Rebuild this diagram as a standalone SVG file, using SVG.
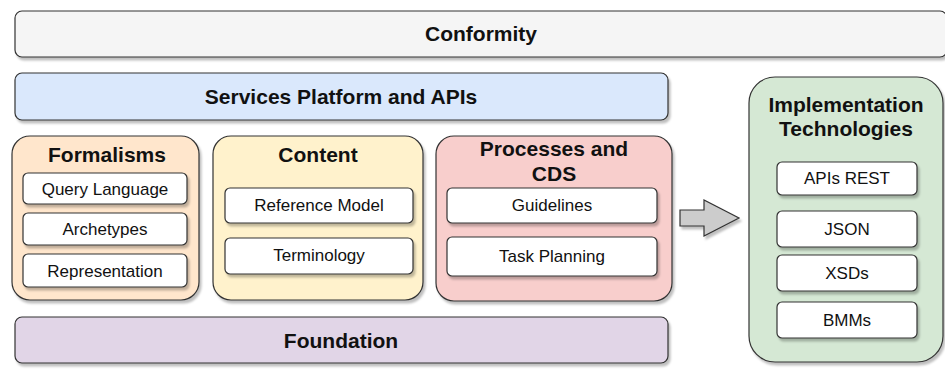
<svg xmlns="http://www.w3.org/2000/svg" width="945" height="369" viewBox="0 0 945 369">
<defs>
<filter id="sh" x="-10%" y="-10%" width="130%" height="130%">
<feDropShadow dx="2" dy="3" stdDeviation="0.8" flood-color="#000" flood-opacity="0.25"/>
</filter>
</defs>
<style>
rect, path { stroke: #333; stroke-width: 1.2; filter: url(#sh); }
.inner { fill: #fff; }
.t { font-family: "Liberation Sans", Arial, sans-serif; font-weight: bold; font-size: 21px; fill: #111; text-anchor: middle; }
.s { font-family: "Liberation Sans", Arial, sans-serif; font-size: 17px; fill: #111; text-anchor: middle; }
</style>
<rect width="945" height="369" fill="#fff" style="stroke:none;filter:none"/>
<g id="conformity">
<rect x="15" y="11" width="932" height="46" rx="7" fill="#f5f5f5"/>
<text class="t" x="481" y="41">Conformity</text>
</g>
<g id="services">
<rect x="15" y="73" width="653" height="47" rx="7" fill="#dae8fc"/>
<text class="t" x="341" y="104">Services Platform and APIs</text>
</g>
<g id="formalisms">
<rect x="12" y="136" width="187" height="164" rx="18" fill="#ffe6cc"/>
<text class="t" x="107" y="162">Formalisms</text>
<rect class="inner" x="23" y="173" width="164" height="31" rx="5"/>
<text class="s" x="105" y="195">Query Language</text>
<rect class="inner" x="23" y="213" width="164" height="32" rx="5"/>
<text class="s" x="105" y="235">Archetypes</text>
<rect class="inner" x="23" y="254" width="164" height="33" rx="5"/>
<text class="s" x="105" y="277">Representation</text>
</g>
<g id="content">
<rect x="213" y="136" width="210" height="164" rx="18" fill="#fff2cc"/>
<text class="t" x="318" y="162">Content</text>
<rect class="inner" x="225" y="188" width="188" height="35" rx="5"/>
<text class="s" x="319" y="211">Reference Model</text>
<rect class="inner" x="225" y="238" width="188" height="36" rx="5"/>
<text class="s" x="319" y="261">Terminology</text>
</g>
<g id="processes">
<rect x="436" y="136" width="236" height="165" rx="18" fill="#f8cecc"/>
<text class="t" x="554" y="156">Processes and</text>
<text class="t" x="554" y="181">CDS</text>
<rect class="inner" x="447" y="188" width="210" height="35" rx="5"/>
<text class="s" x="552" y="211">Guidelines</text>
<rect class="inner" x="447" y="237" width="210" height="39" rx="5"/>
<text class="s" x="552" y="262">Task Planning</text>
</g>
<g id="foundation">
<rect x="15" y="317" width="653" height="46" rx="7" fill="#e1d5e7"/>
<text class="t" x="341" y="348">Foundation</text>
</g>
<g id="implementation">
<rect x="749" y="77" width="194" height="285" rx="26" fill="#d5e8d4"/>
<text class="t" x="846" y="112">Implementation</text>
<text class="t" x="846" y="136">Technologies</text>
<rect class="inner" x="777" y="162" width="140" height="33" rx="5"/>
<text class="s" x="847" y="184">APIs REST</text>
<rect class="inner" x="777" y="211" width="140" height="36" rx="5"/>
<text class="s" x="847" y="235">JSON</text>
<rect class="inner" x="777" y="255" width="140" height="36" rx="5"/>
<text class="s" x="847" y="279">XSDs</text>
<rect class="inner" x="777" y="302" width="140" height="36" rx="5"/>
<text class="s" x="847" y="326">BMMs</text>
</g>
<g id="connectors">
<path d="M680 210 H704 V200 L739 218 L704 236 V226 H680 Z" fill="#cccccc"/>
</g>
</svg>
